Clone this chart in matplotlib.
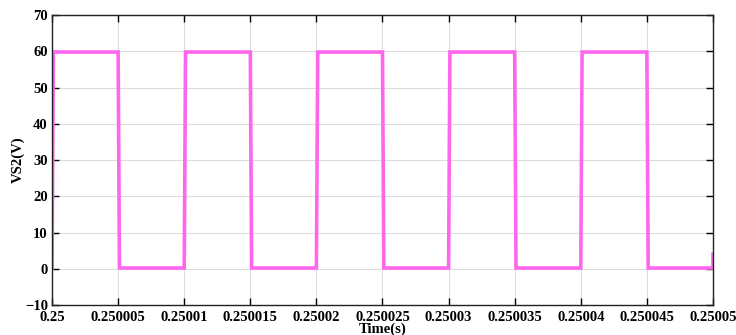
import matplotlib.pyplot as plt
import numpy as np

# switching edges of VS2 (time in s, voltage in V)
t_edges = [0.25, 0.2500001, 0.250005, 0.2500051, 0.25001, 0.2500101,
           0.250015, 0.2500151, 0.25002, 0.2500201, 0.250025, 0.2500251,
           0.25003, 0.2500301, 0.250035, 0.2500351, 0.25004, 0.2500401,
           0.250045, 0.2500451, 0.25005, 0.25005]
v_edges = [0.2, 59.8, 59.8, 0.2, 0.2, 59.8,
           59.8, 0.2, 0.2, 59.8, 59.8, 0.2,
           0.2, 59.8, 59.8, 0.2, 0.2, 59.8,
           59.8, 0.2, 0.2, 4.0]

xticks = [0.25, 0.250005, 0.25001, 0.250015, 0.25002, 0.250025,
          0.25003, 0.250035, 0.25004, 0.250045, 0.25005]
xticklabels = ["0.25", "0.250005", "0.25001", "0.250015", "0.25002", "0.250025",
               "0.25003", "0.250035", "0.25004", "0.250045", "0.25005"]
yticks = [-10, 0, 10, 20, 30, 40, 50, 60, 70]

plt.rcParams['font.family'] = ['Liberation Serif', 'DejaVu Serif']
plt.rcParams['font.weight'] = 'bold'

fig = plt.figure(figsize=(7.36, 3.35), dpi=100)
ax = fig.add_axes([0.0707, 0.0896, 0.898, 0.8654])

ax.plot(t_edges, v_edges, color="#ff66ee", linewidth=2.6, solid_joinstyle="miter")

ax.set_xlim(0.25, 0.25005)
ax.set_ylim(-10, 70)
ax.set_xticks(xticks)
ax.set_xticklabels(xticklabels)
ax.set_yticks(yticks)
ax.grid(True, color="#dddddd", linewidth=0.8)
ax.set_axisbelow(True)
ax.tick_params(direction="in", top=True, right=True, labelsize=10.5, length=5, width=1)
ax.tick_params(axis="x", pad=4)
ax.tick_params(axis="y", pad=3)
for s in ax.spines.values():
    s.set_linewidth(1.0)
    s.set_color("#222222")

ax.set_xlabel("Time(s)", fontsize=10.5, fontweight="bold", labelpad=-1)
ax.set_ylabel("VS2(V)", fontsize=10.5, fontweight="bold", labelpad=0)

fig.savefig("out.png", dpi=100)
